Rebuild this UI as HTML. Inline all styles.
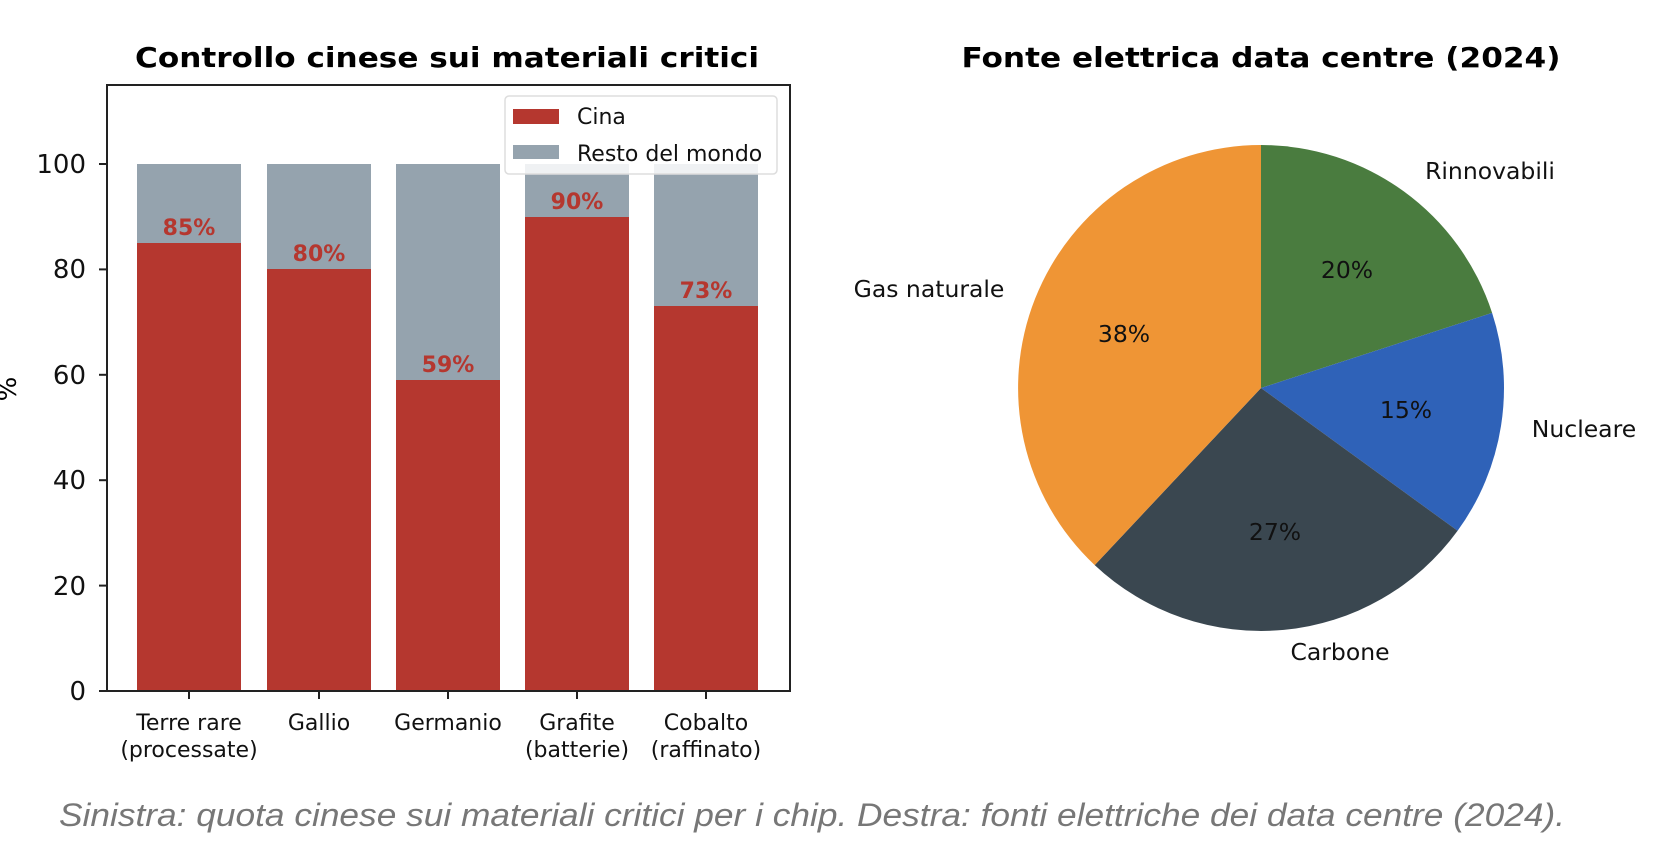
<!DOCTYPE html>
<html><head><meta charset="utf-8"><style>
html,body{margin:0;padding:0;background:#fff;width:1670px;height:850px;overflow:hidden}
svg{display:block}
text{font-family:"DejaVu Sans","Liberation Sans",sans-serif}
</style></head><body>
<svg width="1670" height="850" viewBox="0 0 1670 850">
<text x="447" y="67" text-anchor="middle" font-size="28" font-weight="bold" textLength="624" lengthAdjust="spacingAndGlyphs">Controllo cinese sui materiali critici</text>
<text x="1261" y="67" text-anchor="middle" font-size="28" font-weight="bold" textLength="599" lengthAdjust="spacingAndGlyphs">Fonte elettrica data centre (2024)</text>

<g>
<rect x="137" y="164" width="104" height="79" fill="#95a3ae"/>
<rect x="137" y="243" width="104" height="448" fill="#b5372f"/>
<rect x="267" y="164" width="104" height="105" fill="#95a3ae"/>
<rect x="267" y="269" width="104" height="422" fill="#b5372f"/>
<rect x="396" y="164" width="104" height="216" fill="#95a3ae"/>
<rect x="396" y="380" width="104" height="311" fill="#b5372f"/>
<rect x="525" y="164" width="104" height="53" fill="#95a3ae"/>
<rect x="525" y="217" width="104" height="474" fill="#b5372f"/>
<rect x="654" y="164" width="104" height="142" fill="#95a3ae"/>
<rect x="654" y="306" width="104" height="385" fill="#b5372f"/>
</g>
<g font-size="22" font-weight="bold" fill="#b5372f" text-anchor="middle">
<text x="189" y="235">85%</text>
<text x="319" y="261">80%</text>
<text x="448" y="372">59%</text>
<text x="577" y="209">90%</text>
<text x="706" y="298">73%</text>
</g>
<rect x="107" y="85" width="683" height="606" fill="none" stroke="#222" stroke-width="2"/>
<g stroke="#222" stroke-width="2">
<line x1="99" y1="691" x2="107" y2="691"/><line x1="99" y1="585.6" x2="107" y2="585.6"/>
<line x1="99" y1="480.2" x2="107" y2="480.2"/><line x1="99" y1="374.8" x2="107" y2="374.8"/>
<line x1="99" y1="269.4" x2="107" y2="269.4"/><line x1="99" y1="164" x2="107" y2="164"/>
<line x1="189" y1="691" x2="189" y2="699"/><line x1="319" y1="691" x2="319" y2="699"/>
<line x1="448" y1="691" x2="448" y2="699"/><line x1="577" y1="691" x2="577" y2="699"/>
<line x1="706" y1="691" x2="706" y2="699"/>
</g>
<g font-size="26" text-anchor="end" fill="#111">
<text x="86" y="700">0</text><text x="86" y="595">20</text><text x="86" y="489">40</text>
<text x="86" y="384">60</text><text x="86" y="278">80</text><text x="86" y="173">100</text>
</g>
<text transform="translate(16,389) rotate(-90)" font-size="26" text-anchor="middle">%</text>
<g font-size="22" text-anchor="middle" fill="#111">
<text x="189" y="730">Terre rare</text><text x="189" y="757">(processate)</text>
<text x="319" y="730">Gallio</text>
<text x="448" y="730">Germanio</text>
<text x="577" y="730">Grafite</text><text x="577" y="757">(batterie)</text>
<text x="706" y="730">Cobalto</text><text x="706" y="757">(raffinato)</text>
</g>
<rect x="505" y="96" width="272" height="78" rx="4" fill="#fff" fill-opacity="0.85" stroke="#ddd" stroke-width="1.5"/>
<rect x="513" y="109" width="46" height="15" fill="#b5372f"/>
<rect x="513" y="145" width="46" height="14" fill="#95a3ae"/>
<g font-size="22" fill="#111">
<text x="577" y="124">Cina</text>
<text x="577" y="161">Resto del mondo</text>
</g>

<g>
<path d="M1261,388 L1261,145 A243,243 0 0 1 1492.1,312.9 Z" fill="#4a7c3f"/>
<path d="M1261,388 L1492.1,312.9 A243,243 0 0 1 1457.6,530.8 Z" fill="#2f62b8"/>
<path d="M1261,388 L1457.6,530.8 A243,243 0 0 1 1094.7,565.1 Z" fill="#3a4750"/>
<path d="M1261,388 L1094.7,565.1 A243,243 0 0 1 1261,145 Z" fill="#ef9535"/>
</g>
<g font-size="23.5" text-anchor="middle" fill="#111">
<text x="1347" y="278">20%</text>
<text x="1406" y="418">15%</text>
<text x="1275" y="540">27%</text>
<text x="1124" y="342">38%</text>
<text x="1490" y="179">Rinnovabili</text>
<text x="1584" y="437">Nucleare</text>
<text x="1340" y="660">Carbone</text>
<text x="929" y="297">Gas naturale</text>
</g>

<text x="59" y="826" font-style="italic" font-size="32" fill="#777" textLength="1506" lengthAdjust="spacingAndGlyphs" style="font-family:'Liberation Sans',sans-serif">Sinistra: quota cinese sui materiali critici per i chip. Destra: fonti elettriche dei data centre (2024).</text>
</svg>
</body></html>
